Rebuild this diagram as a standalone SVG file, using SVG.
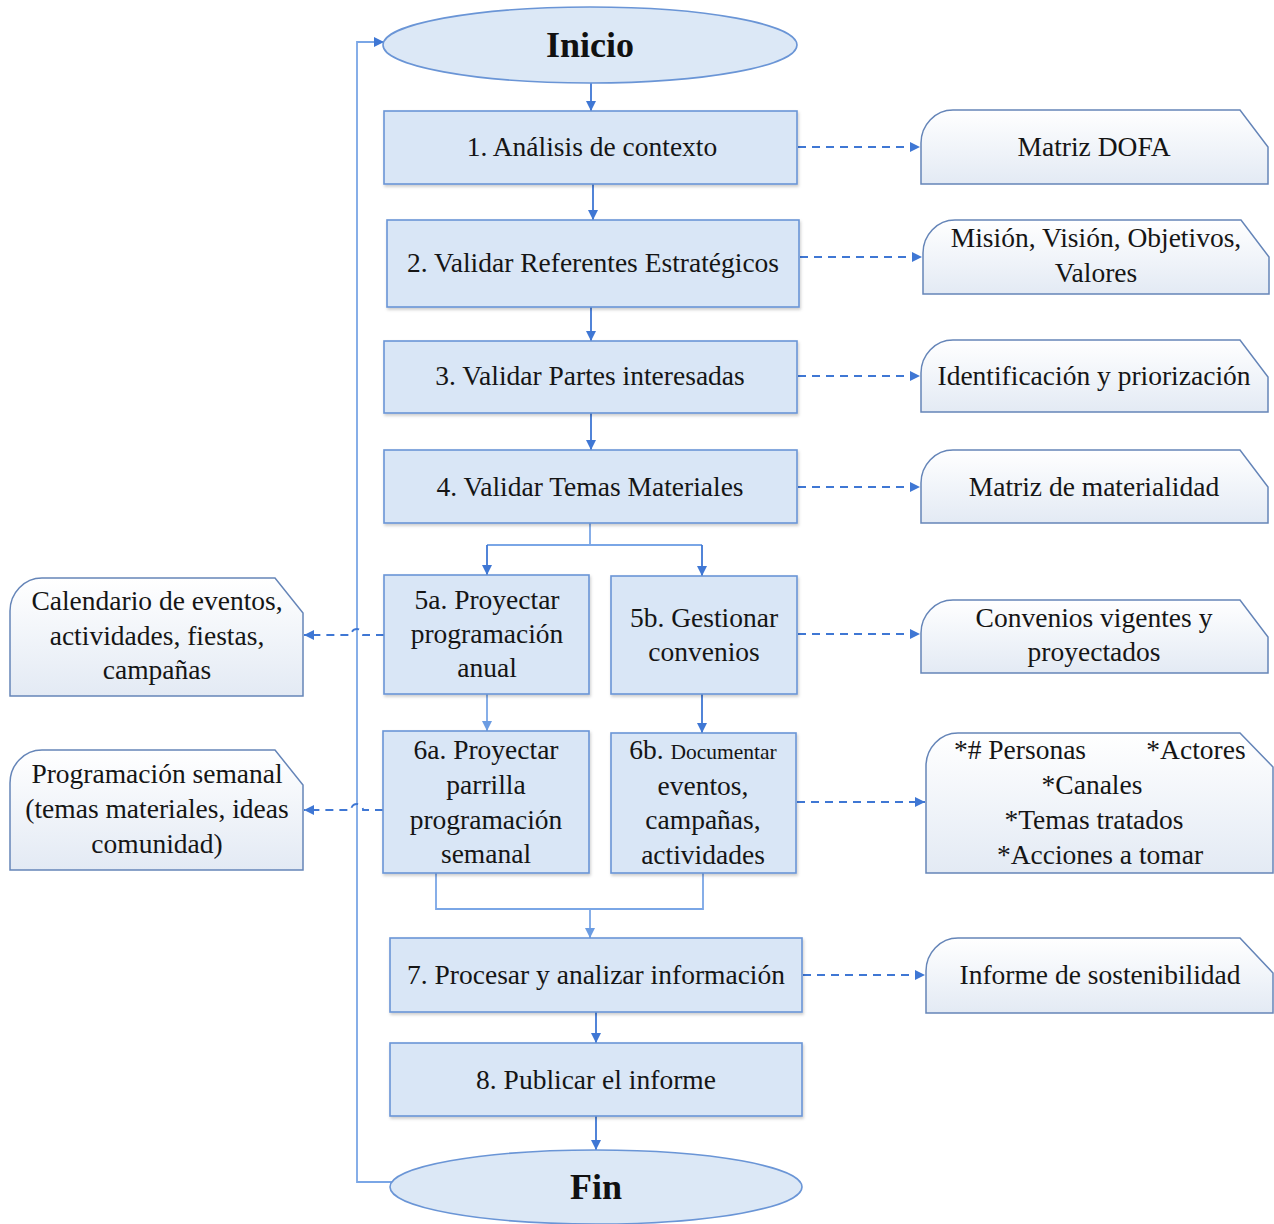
<svg xmlns="http://www.w3.org/2000/svg" width="1274" height="1224" viewBox="0 0 1274 1224">
<style>
.box{fill:#d9e6f6;stroke:#6a95d6;stroke-width:1.6;filter:url(#sh)}
.term{fill:#dce8f6;stroke:#6a95d6;stroke-width:1.6}
.doc{fill:url(#dg);stroke:#6585b8;stroke-width:1.5}
.t{font-family:"Liberation Serif","Times New Roman",serif;font-size:27.5px;fill:#151515;text-anchor:middle}
.tb{font-family:"Liberation Serif","Times New Roman",serif;font-size:36px;font-weight:bold;fill:#111;text-anchor:middle}
.sm{font-size:21.5px}
.ln{fill:none;stroke:#3f77d4;stroke-width:1.8}
.lt{fill:none;stroke:#7aa6e6;stroke-width:1.8}
.dash{fill:none;stroke:#3f77d4;stroke-width:1.8;stroke-dasharray:8 6}
</style>
<defs>
<linearGradient id="dg" x1="0" y1="0" x2="0" y2="1">
<stop offset="0" stop-color="#ffffff"/>
<stop offset="1" stop-color="#e3eaf4"/>
</linearGradient>
<filter id="sh" x="-5%" y="-5%" width="110%" height="115%">
<feDropShadow dx="1" dy="2" stdDeviation="1.5" flood-color="#000" flood-opacity="0.2"/>
</filter>
<marker id="ar" viewBox="0 0 10 10" refX="10" refY="5" markerWidth="10" markerHeight="10" markerUnits="userSpaceOnUse" orient="auto">
<path d="M0,0 L10,5 L0,10 Z" fill="#3f77d4"/>
</marker>
<marker id="arl" viewBox="0 0 10 10" refX="10" refY="5" markerWidth="10" markerHeight="10" markerUnits="userSpaceOnUse" orient="auto">
<path d="M0,0 L10,5 L0,10 Z" fill="#6b9ce2"/>
</marker>
</defs>

<g id="connectors">
<path class="lt" d="M392,1182 H357 V42 H384" marker-end="url(#ar)"/>
<path class="ln" d="M591,83 V111" marker-end="url(#ar)"/>
<path class="ln" d="M593,184 V220" marker-end="url(#ar)"/>
<path class="ln" d="M591,307 V341" marker-end="url(#ar)"/>
<path class="ln" d="M591,413 V450" marker-end="url(#ar)"/>
<path class="lt" d="M590,523 V545 H487"/>
<path class="ln" d="M487,545 V575" marker-end="url(#ar)"/>
<path class="lt" d="M590,545 H702"/>
<path class="ln" d="M702,545 V576" marker-end="url(#ar)"/>
<path class="lt" d="M487,694 V731" marker-end="url(#arl)"/>
<path class="ln" d="M702,694 V733" marker-end="url(#ar)"/>
<path class="lt" d="M436,873 V909 H703 V873"/>
<path class="lt" d="M590,909 V938" marker-end="url(#arl)"/>
<path class="ln" d="M596,1012 V1043" marker-end="url(#ar)"/>
<path class="ln" d="M596,1116 V1150" marker-end="url(#ar)"/>
<path class="dash" d="M798,147 H920" marker-end="url(#ar)"/>
<path class="dash" d="M800,257 H922" marker-end="url(#ar)"/>
<path class="dash" d="M798,376 H920" marker-end="url(#ar)"/>
<path class="dash" d="M798,487 H920" marker-end="url(#ar)"/>
<path class="dash" d="M798,634 H920" marker-end="url(#ar)"/>
<path class="dash" d="M797,802 H925" marker-end="url(#ar)"/>
<path class="dash" d="M803,975 H925" marker-end="url(#ar)"/>
<path class="dash" d="M384,635 H363 A6,6 0 0 0 351,635 H304" marker-end="url(#ar)"/>
<path class="dash" d="M383,810 H363 A6,6 0 0 0 351,810 H304" marker-end="url(#ar)"/>
</g>

<g id="inicio">
<ellipse class="term" cx="590" cy="45" rx="207" ry="38"/>
<text class="tb" x="590" y="57">Inicio</text>
</g>
<g id="n1">
<rect class="box" x="384" y="111" width="413" height="73"/>
<text class="t" x="592" y="156">1. Análisis de contexto</text>
</g>
<g id="n2">
<rect class="box" x="387" y="220" width="412" height="87"/>
<text class="t" x="593" y="272">2. Validar Referentes Estratégicos</text>
</g>
<g id="n3">
<rect class="box" x="384" y="341" width="413" height="72"/>
<text class="t" x="590" y="385">3. Validar Partes interesadas</text>
</g>
<g id="n4">
<rect class="box" x="384" y="450" width="413" height="73"/>
<text class="t" x="590" y="496">4. Validar Temas Materiales</text>
</g>
<g id="n5a">
<rect class="box" x="384" y="575" width="205" height="119"/>
<text class="t" x="487" y="609">5a. Proyectar</text>
<text class="t" x="487" y="643">programación</text>
<text class="t" x="487" y="677">anual</text>
</g>
<g id="n5b">
<rect class="box" x="611" y="576" width="186" height="118"/>
<text class="t" x="704" y="627">5b. Gestionar</text>
<text class="t" x="704" y="661">convenios</text>
</g>
<g id="n6a">
<rect class="box" x="383" y="731" width="206" height="142"/>
<text class="t" x="486" y="759">6a. Proyectar</text>
<text class="t" x="486" y="794">parrilla</text>
<text class="t" x="486" y="829">programación</text>
<text class="t" x="486" y="863">semanal</text>
</g>
<g id="n6b">
<rect class="box" x="611" y="733" width="185" height="140"/>
<text class="t" x="703" y="759">6b. <tspan class="sm">Documentar</tspan></text>
<text class="t" x="703" y="795">eventos,</text>
<text class="t" x="703" y="829">campañas,</text>
<text class="t" x="703" y="864">actividades</text>
</g>
<g id="n7">
<rect class="box" x="390" y="938" width="412" height="74"/>
<text class="t" x="596" y="984">7. Procesar y analizar información</text>
</g>
<g id="n8">
<rect class="box" x="390" y="1043" width="412" height="73"/>
<text class="t" x="596" y="1089">8. Publicar el informe</text>
</g>
<g id="fin">
<ellipse class="term" cx="596" cy="1187" rx="206" ry="37"/>
<text class="tb" x="596" y="1199">Fin</text>
</g>

<g id="d1">
<path class="doc" d="M921,184 V143 A32,33 0 0 1 953,110 H1240 L1268,147 V184 Z"/>
<text class="t" x="1094" y="156">Matriz DOFA</text>
</g>
<g id="d2">
<path class="doc" d="M923,294 V253 A32,33 0 0 1 955,220 H1241 L1269,257 V294 Z"/>
<text class="t" x="1096" y="247">Misión, Visión, Objetivos,</text>
<text class="t" x="1096" y="282">Valores</text>
</g>
<g id="d3">
<path class="doc" d="M921,412 V373 A32,33 0 0 1 953,340 H1240 L1268,377 V412 Z"/>
<text class="t" x="1094" y="385">Identificación y priorización</text>
</g>
<g id="d4">
<path class="doc" d="M921,523 V483 A32,33 0 0 1 953,450 H1240 L1268,487 V523 Z"/>
<text class="t" x="1094" y="496">Matriz de materialidad</text>
</g>
<g id="d5b">
<path class="doc" d="M921,673 V633 A32,33 0 0 1 953,600 H1240 L1268,637 V673 Z"/>
<text class="t" x="1094" y="627">Convenios vigentes y</text>
<text class="t" x="1094" y="661">proyectados</text>
</g>
<g id="d6b">
<path class="doc" d="M926,873 V766 A32,33 0 0 1 958,733 H1240 L1273,767 V873 Z"/>
<text class="t" x="1020" y="759">*# Personas</text>
<text class="t" x="1196" y="759">*Actores</text>
<text class="t" x="1092" y="794">*Canales</text>
<text class="t" x="1094" y="829">*Temas tratados</text>
<text class="t" x="1100" y="864">*Acciones a tomar</text>
</g>
<g id="d7">
<path class="doc" d="M926,1013 V971 A32,33 0 0 1 958,938 H1240 L1273,973 V1013 Z"/>
<text class="t" x="1100" y="984">Informe de sostenibilidad</text>
</g>
<g id="d5a">
<path class="doc" d="M10,696 V611 A32,33 0 0 1 42,578 H275 L303,613 V696 Z"/>
<text class="t" x="157" y="610">Calendario de eventos,</text>
<text class="t" x="157" y="645">actividades, fiestas,</text>
<text class="t" x="157" y="679">campañas</text>
</g>
<g id="d6a">
<path class="doc" d="M10,870 V783 A32,33 0 0 1 42,750 H275 L303,785 V870 Z"/>
<text class="t" x="157" y="783">Programación semanal</text>
<text class="t" x="157" y="818">(temas materiales, ideas</text>
<text class="t" x="157" y="853">comunidad)</text>
</g>
</svg>
